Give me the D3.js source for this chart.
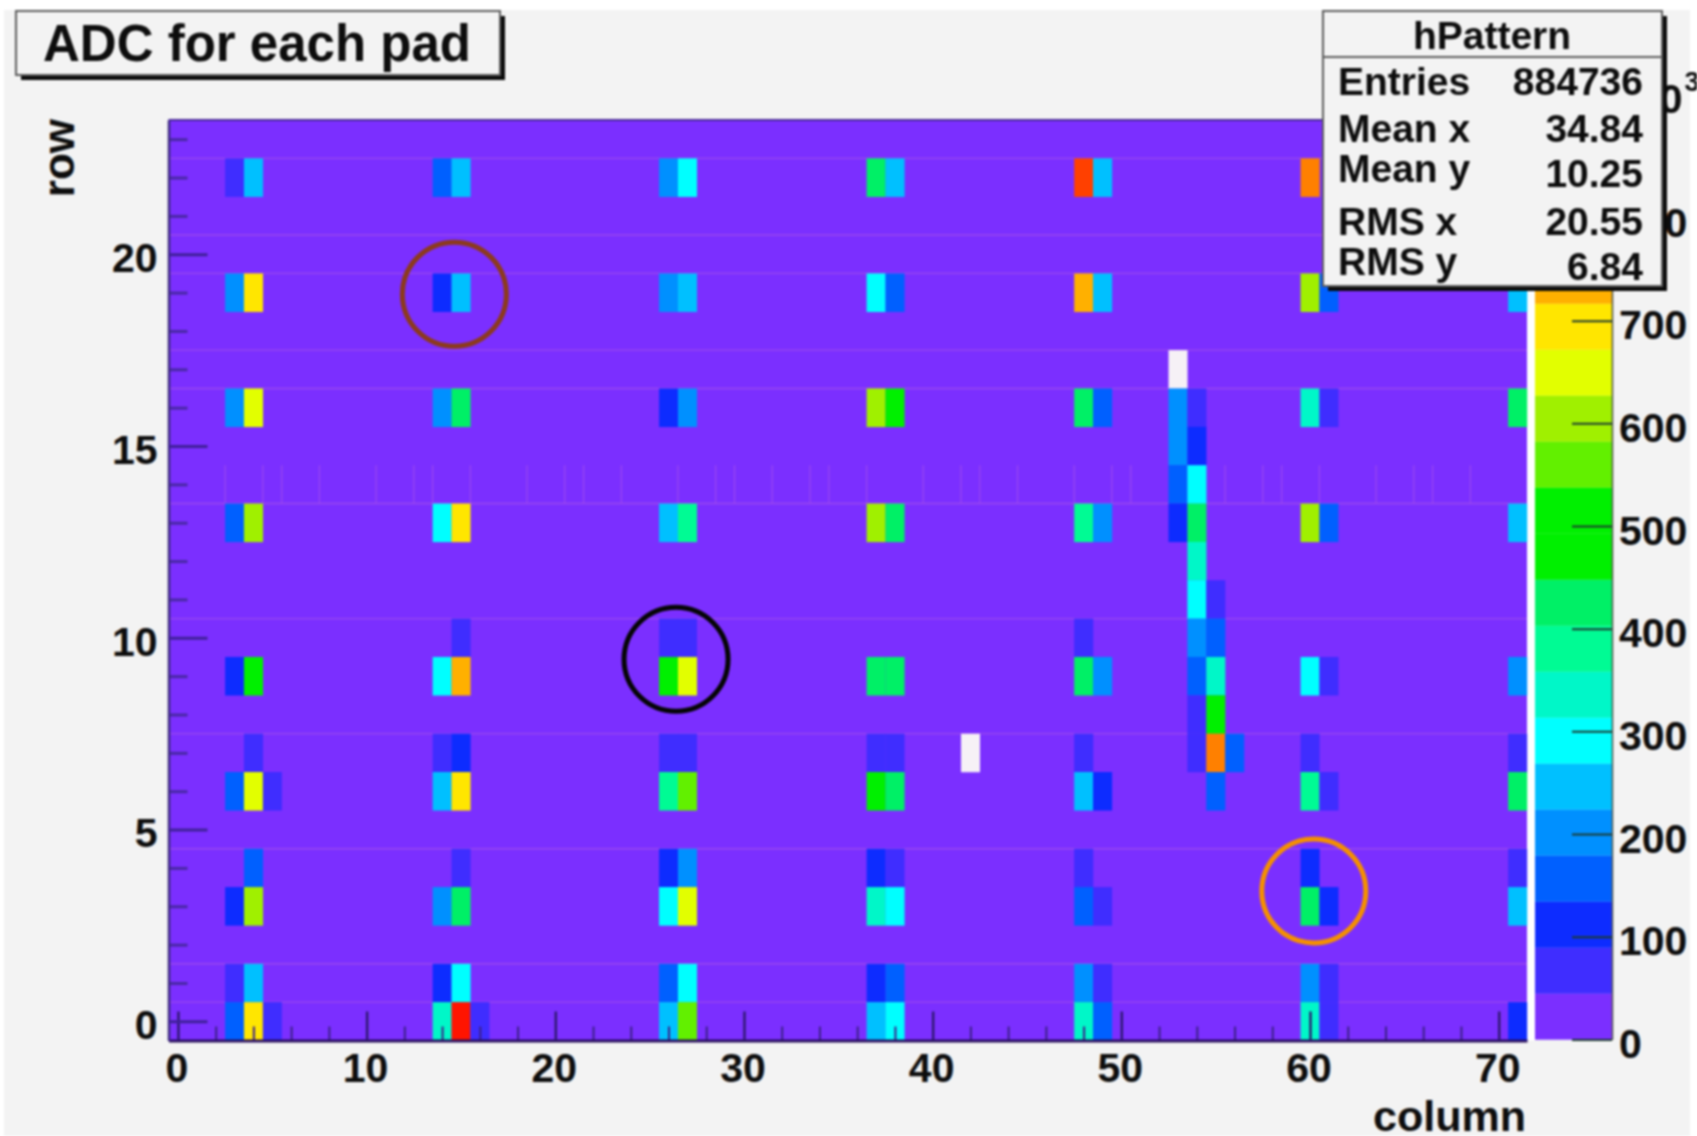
<!DOCTYPE html>
<html><head><meta charset="utf-8">
<style>
html,body{margin:0;padding:0;background:#fff;overflow:hidden}
svg{display:block;filter:blur(0.85px)}
text{font-family:"Liberation Sans",Arial,sans-serif;font-weight:bold;fill:#0d0d0d}
</style>
<script src="https://cdnjs.cloudflare.com/ajax/libs/d3/7.8.5/d3.min.js"></script>
</head><body>
<script>
// ---- data ----
const chartTitle = "ADC for each pad";
const xTitle = "column";
const yTitle = "row";
const statsName = "hPattern";
const statsLabels = ["Entries","Mean x","Mean y","RMS x","RMS y"];
const statsValues = ["884736","34.84","10.25","20.55","6.84"];

const xMajor = [0,10,20,30,40,50,60,70];
const xMinor = [2,4,6,8,12,14,16,18,22,24,26,28,32,34,36,38,42,44,46,48,52,54,56,58,62,64,66,68];
const yMajor = [0,5,10,15,20];
const yMinor = [1,2,3,4,6,7,8,9,11,12,13,14,16,17,18,19,21,22,23];
const zTicks = [0,100,200,300,400,500,600,700,800];
const zMaximum = 896;
const bandColors = ["#7b2fff","#3f2dff","#0d2cff","#0060ff","#0090ff","#00c0ff","#00ffff","#00f7c8","#00fb94","#00f066",
  "#00f000","#00f000","#62f000","#a0f000","#e2ff00","#ffe600","#ffb000","#ff8000","#ff4000","#ff1400"];

const cellCols = [
  3,4, 14,15, 26,27, 37,38, 48,49, 60,
  3,4, 14,15, 26,27, 37,38, 48,49, 60,61, 71,
  3,4, 14,15, 26,27, 37,38, 48,49, 60,61, 71,
  3,4, 14,15, 26,27, 37,38, 48,49, 60,61, 71,
  15, 26,27, 48,
  3,4, 14,15, 26,27, 37,38, 48,49, 60,61, 71,
  4, 14,15, 26,27, 37,38, 42, 48, 60, 71,
  3,4,5, 14,15, 26,27, 37,38, 48,49, 60,61, 71,
  4, 15, 26,27, 37,38, 48, 60, 71,
  3,4, 14,15, 26,27, 37,38, 48,49, 60,61, 71,
  3,4, 14,15, 26,27, 37,38, 48,49, 60,61,
  3,4,5, 14,15,16, 26,27, 37,38, 48,49, 60,61, 71,
  53, 53,54, 53,54, 53,54, 53,54, 54, 54,55, 54,55, 54,55, 54,55, 54,55,56, 55
];
const cellRows = [
  22,22, 22,22, 22,22, 22,22, 22,22, 22,
  19,19, 19,19, 19,19, 19,19, 19,19, 19,19, 19,
  16,16, 16,16, 16,16, 16,16, 16,16, 16,16, 16,
  13,13, 13,13, 13,13, 13,13, 13,13, 13,13, 13,
  10, 10,10, 10,
  9,9, 9,9, 9,9, 9,9, 9,9, 9,9, 9,
  7, 7,7, 7,7, 7,7, 7, 7, 7, 7,
  6,6,6, 6,6, 6,6, 6,6, 6,6, 6,6, 6,
  4, 4, 4,4, 4,4, 4, 4, 4,
  3,3, 3,3, 3,3, 3,3, 3,3, 3,3, 3,
  1,1, 1,1, 1,1, 1,1, 1,1, 1,1,
  0,0,0, 0,0,0, 0,0, 0,0, 0,0, 0,0, 0,
  17, 16,16, 15,15, 14,14, 13,13, 12, 11,11, 10,10, 9,9, 8,8, 7,7,7, 6
];
const cellAdc = [
  70,245, 155,245, 200,290, 425,245, 830,245, 785,
  200,695, 110,245, 200,245, 290,155, 740,245, 605,155, 245,
  200,650, 200,425, 110,200, 605,470, 425,155, 335,70, 425,
  155,605, 290,695, 245,380, 605,425, 380,200, 605,155, 245,
  70, 70,70, 70,
  110,470, 290,740, 470,650, 425,425, 425,200, 290,70, 200,
  70, 70,110, 70,70, 70,70, 950, 70, 70, 70,
  155,650,70, 245,695, 380,560, 470,425, 245,110, 380,70, 425,
  155, 70, 110,200, 110,70, 70, 110, 70,
  110,605, 200,425, 290,650, 335,290, 155,70, 425,110, 245,
  70,245, 110,290, 155,290, 110,155, 200,70, 200,70,
  155,695,70, 335,875,70, 245,560, 245,290, 335,155, 335,70, 110,
  950, 200,70, 200,110, 155,290, 110,425, 335, 290,70, 200,155, 155,335, 70,470, 70,785,155, 155
];

// faint bin-edge artefacts seen in the picture (histogram coordinates)
const faintRowEdges = [0.5,1.5,4.5,7.5,10.5,13.5,16.5,17.5,19.5,20.5,22.5];
const faintColEdges = [2.5,4.5,5.5,7.5,10.5,12.5,13.5,15.5,18.5,20.5,21.5,23.5,26.5,28.5,29.5,31.5,33.5,34.5,36.5,39.5,41.5,42.5,44.5,47.5,49.5,50.5,55.5,57.5,58.5,60.5,63.5,65.5,66.5,68.5];
const faintColRow = 14;

// hand-drawn rings
const ringCols = [14.65, 26.4, 60.2];
const ringRows = [18.96, 9.44, 3.4];
const ringColors = ["#8c3a1c","#050505","#f59000"];

// ---- layout ----
const W = 1697, H = 1136;
const svg = d3.select("body").append("svg").attr("width",W).attr("height",H);

const x = d3.scaleLinear().domain([-0.5,71.5]).range([168.5,1527]);
const y = d3.scaleLinear().domain([-0.5,23.5]).range([1040.5,120]);
const z = d3.scaleLinear().domain([0,zMaximum]).range([1039.4,119.4]);
const bandOf = d3.scaleQuantize().domain([0,zMaximum]).range(bandColors);
const colorOf = v => v > zMaximum ? "#f6f1f6" : bandOf(v);

// page
svg.append("rect").attr("x",4).attr("y",10).attr("width",1686).attr("height",1126).attr("fill","#f3f3f3");

// plot floor + separator strip
svg.append("rect").attr("x",x(71.5)).attr("y",y(23.5)).attr("width",8).attr("height",y(-0.5)-y(23.5)).attr("fill","#ffffff");
svg.append("rect").attr("x",x(-0.5)).attr("y",y(23.5)).attr("width",x(71.5)-x(-0.5)).attr("height",y(-0.5)-y(23.5)).attr("fill",bandColors[0]);

// faint edges
svg.append("g").selectAll("line").data(faintRowEdges).join("line")
  .attr("x1",x(-0.5)).attr("x2",x(71.5)).attr("y1",d=>y(d)).attr("y2",d=>y(d))
  .attr("stroke","#9a48ee").attr("stroke-width",1.4);
svg.append("g").selectAll("line").data(faintColEdges).join("line")
  .attr("x1",d=>x(d)).attr("x2",d=>x(d)).attr("y1",y(faintColRow+0.5)).attr("y2",y(faintColRow-0.5))
  .attr("stroke","#9a48ee").attr("stroke-width",1.2);

// cells
svg.append("g").selectAll("rect").data(cellAdc).join("rect")
  .attr("x",(d,i)=>x(cellCols[i]-0.5))
  .attr("y",(d,i)=>y(cellRows[i]+0.5))
  .attr("width",x(1)-x(0)+0.2)
  .attr("height",y(0)-y(1)+0.2)
  .attr("fill",d=>colorOf(d));

// axes
function styleAxis(g, color, sw){
  g.selectAll(".tick line").attr("stroke",color).attr("stroke-width",sw);
  g.selectAll("text").style("font-size","41px").attr("fill","#0d0d0d").style("font-family",'"Liberation Sans",Arial,sans-serif').style("font-weight","bold");
}
// minor ticks
const gxm = svg.append("g").attr("transform",`translate(0,${y(-0.5)})`)
  .call(d3.axisBottom(x).tickValues(xMinor).tickSize(-14).tickSizeOuter(0).tickFormat(""));
gxm.select(".domain").remove(); styleAxis(gxm,"#3c2088",2);
const gym = svg.append("g").attr("transform",`translate(${x(-0.5)},0)`)
  .call(d3.axisLeft(y).tickValues(yMinor).tickSize(-19).tickSizeOuter(0).tickFormat(""));
gym.select(".domain").remove(); styleAxis(gym,"#4a28a6",3);
// major ticks
const gx = svg.append("g").attr("transform",`translate(0,${y(-0.5)})`)
  .call(d3.axisBottom(x).tickValues(xMajor).tickSize(-29).tickSizeOuter(0).tickPadding(12).tickFormat(d3.format("d")));
gx.select(".domain").attr("stroke","#2a1060").attr("stroke-width",3);
styleAxis(gx,"#2e1870",2.4);
gx.selectAll("text").attr("dx",-1.5);
const gy = svg.append("g").attr("transform",`translate(${x(-0.5)},0)`)
  .call(d3.axisLeft(y).tickValues(yMajor).tickSize(-39).tickSizeOuter(0).tickPadding(11).tickFormat(d3.format("d")));
gy.select(".domain").attr("stroke","#3d2a80").attr("stroke-width",2.5);
styleAxis(gy,"#40209a",3);
gy.selectAll("text").attr("dy","0.42em");
// top frame
svg.append("line").attr("x1",x(-0.5)).attr("x2",x(71.5)).attr("y1",y(23.5)).attr("y2",y(23.5)).attr("stroke","#4a2a99").attr("stroke-width",2);

// axis titles
svg.append("text").attr("x",x(71.5)-1).attr("y",1131).attr("text-anchor","end").style("font-size","43px").text(xTitle);
svg.append("text").attr("transform","translate(74,119) rotate(-90)").attr("text-anchor","end").style("font-size","44px").text(yTitle);

// colour bar
const barX0 = 1535, barX1 = 1612;
svg.append("g").selectAll("rect").data(bandColors).join("rect")
  .attr("x",barX0).attr("width",barX1-barX0)
  .attr("y",(d,i)=>z((i+1)*zMaximum/bandColors.length))
  .attr("height",z(0)-z(zMaximum/bandColors.length)+0.3)
  .attr("fill",d=>d);
const gz = svg.append("g").attr("transform",`translate(${barX1},0)`)
  .call(d3.axisRight(z).tickValues(zTicks).tickSize(-40).tickSizeOuter(0).tickPadding(7).tickFormat(d3.format("d")));
gz.select(".domain").attr("stroke","#555b50").attr("stroke-width",1.6);
styleAxis(gz,"#1c3a30",2);
gz.selectAll("text").attr("dy","0.44em");
// exponent label behind the stats box
const expo = svg.append("text").attr("x",1637).attr("y",113).style("font-size","41px").text("10");
expo.append("tspan").attr("dy",-22).attr("dx",2).style("font-size","27px").text("3");

// rings
svg.append("g").selectAll("ellipse").data(ringCols).join("ellipse")
  .attr("cx",d=>x(d)).attr("cy",(d,i)=>y(ringRows[i]))
  .attr("rx",52).attr("ry",52)
  .attr("fill","none").attr("stroke",(d,i)=>ringColors[i]).attr("stroke-width",5);

// title box
function box(bx,by,bw,bh,sx,sy){
  svg.append("rect").attr("x",bx+sx).attr("y",by+sy).attr("width",bw).attr("height",bh).attr("fill","#0a0a0a");
  svg.append("rect").attr("x",bx).attr("y",by).attr("width",bw).attr("height",bh)
    .attr("fill","#f3f3f3").attr("stroke","#5c5c5c").attr("stroke-width",2);
}
box(16,11,484,64,5,5);
svg.append("text").attr("x",43).attr("y",61).style("font-size","51px").text(chartTitle);

// stats box
box(1323,11,339,275,5,5);
svg.append("line").attr("x1",1323).attr("x2",1662).attr("y1",57).attr("y2",57).attr("stroke","#5c5c5c").attr("stroke-width",2);
svg.append("text").attr("x",1492).attr("y",49).attr("text-anchor","middle").style("font-size","39px").text(statsName);
const labelBase = [95,142,182,235,275];
const valueBase = [95,142,187,235,280];
svg.append("g").selectAll("text").data(statsLabels).join("text")
  .attr("x",1338).attr("y",(d,i)=>labelBase[i]).style("font-size","39px").text(d=>d);
svg.append("g").selectAll("text").data(statsValues).join("text")
  .attr("x",1643).attr("y",(d,i)=>valueBase[i]).attr("text-anchor","end").style("font-size","39px").text(d=>d);
</script>
</body></html>
